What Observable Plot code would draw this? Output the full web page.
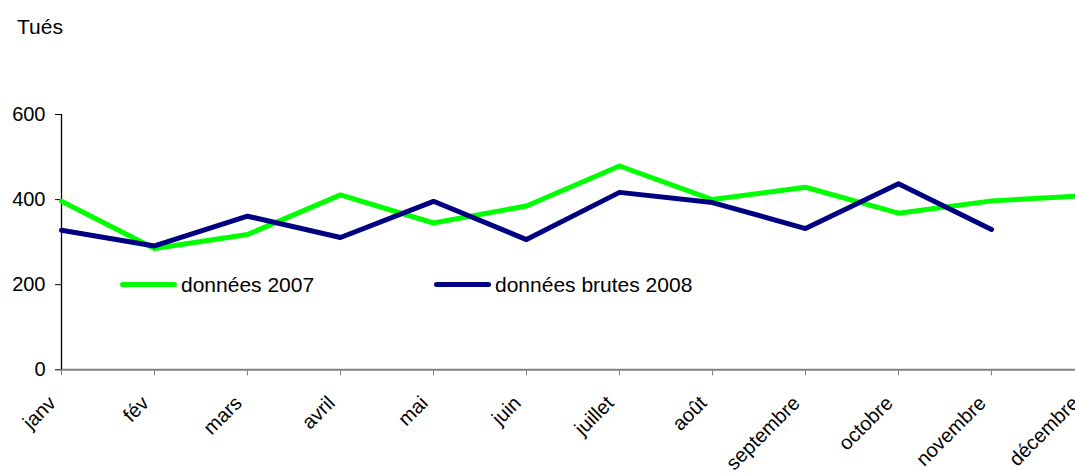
<!DOCTYPE html>
<html>
<head>
<meta charset="utf-8">
<script src="https://cdn.jsdelivr.net/npm/d3@7"></script>
<script src="https://cdn.jsdelivr.net/npm/@observablehq/plot@0.6"></script>
<style>
  html, body { margin: 0; padding: 0; background: #fff; }
  body { width: 1075px; height: 475px; overflow: hidden; font-family: "Liberation Sans", Arial, sans-serif; }
  #wrap { position: relative; width: 1075px; height: 475px; }
  #title { position: absolute; left: 17px; top: 16px; font-size: 21px; line-height: 21px; color: #000; }
  .leg { position: absolute; top: 274px; font-size: 21px; line-height: 21px; color: #000; white-space: nowrap; }
  .sw { position: absolute; top: 8px; height: 5px; border-radius: 3px; }
  #chart svg { display: block; }
</style>
</head>
<body>
<div id="wrap">
  <div id="chart"></div>
  <div id="title"></div>
  <div id="legend"></div>
</div>
<script>
const months = ["janv","fév","mars","avril","mai","juin","juillet","août","septembre","octobre","novembre","décembre"];
const values2007 = [396, 285, 318, 411, 345, 385, 479, 400, 429, 368, 397, 409];
const values2008 = [328, 291, 361, 311, 396, 306, 417, 393, 332, 437, 330];
const yTicks = [0, 200, 400, 600];
const seriesNames = ["données 2007", "données brutes 2008"];
const seriesColors = ["#00FF00", "#000080"];
const titleText = "Tués";

const rows2007 = months.map((m, i) => ({month: m, value: values2007[i]}));
const rows2008 = values2008.map((v, i) => ({month: months[i], value: v}));

const chart = Plot.plot({
  width: 1075,
  height: 475,
  marginLeft: 61,
  marginRight: 0,
  marginTop: 114,
  marginBottom: 105.7,
  style: {fontFamily: "'Liberation Sans', Arial, sans-serif", fontSize: "20px", color: "#000", background: "#fff"},
  x: {type: "point", domain: months, range: [61, 1084], padding: 0},
  y: {domain: [0, 600]},
  marks: [
    Plot.ruleY([0], {stroke: "#808080", strokeWidth: 2}),
    Plot.ruleX([months[0]], {y1: 0, y2: 600, stroke: "#000", strokeWidth: 1.3}),
    Plot.axisY({ticks: yTicks, tickSize: 6, tickPadding: 10, stroke: "#000", label: null, fontSize: 20}),
    Plot.axisX({tickSize: 6, tickPadding: 0, stroke: "#808080", label: null, text: null}),
    Plot.axisX({tickSize: 0, tickPadding: 30, tickRotate: -45, dx: -9, label: null, fontSize: 20, fill: "#000"}),
    Plot.line(rows2007, {x: "month", y: "value", stroke: seriesColors[0], strokeWidth: 5, strokeLinejoin: "round", strokeLinecap: "round"}),
    Plot.line(rows2008, {x: "month", y: "value", stroke: seriesColors[1], strokeWidth: 5, strokeLinejoin: "round", strokeLinecap: "round"})
  ]
});
document.getElementById("chart").appendChild(chart);
document.getElementById("title").textContent = titleText;

const legendLefts = [120, 434];
const legend = document.getElementById("legend");
seriesNames.forEach((name, i) => {
  const item = document.createElement("div");
  item.className = "leg";
  item.style.left = legendLefts[i] + "px";
  const sw = document.createElement("span");
  sw.className = "sw";
  sw.style.left = "0px";
  sw.style.width = "57px";
  sw.style.background = seriesColors[i];
  const txt = document.createElement("span");
  txt.style.marginLeft = "61px";
  txt.textContent = name;
  item.appendChild(sw);
  item.appendChild(txt);
  legend.appendChild(item);
});
</script>
</body>
</html>
